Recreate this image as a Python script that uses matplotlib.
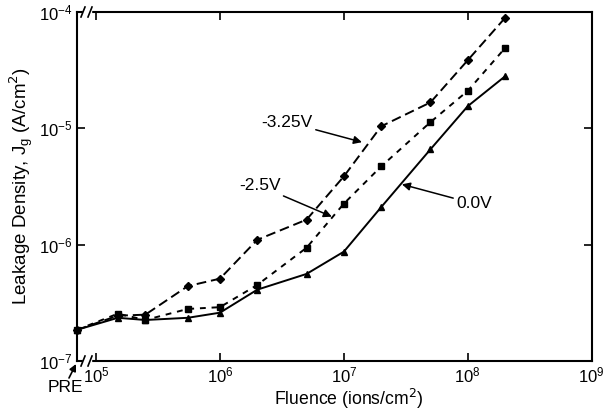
import numpy as np
import matplotlib.pyplot as plt
from matplotlib.ticker import LogLocator, NullLocator

plt.rcParams['font.family'] = ['Liberation Sans', 'DejaVu Sans']
plt.rcParams['axes.unicode_minus'] = False

# fluence (ions/cm2); first point is the pre-irradiation value
fluence = [7.0e4, 1.5e5, 2.5e5, 5.5e5, 1e6, 2e6, 5e6, 1e7, 2e7, 5e7, 1e8, 2e8]
jg_325 = [1.85e-7, 2.45e-7, 2.5e-7, 4.4e-7, 5.1e-7, 1.1e-6, 1.64e-6, 3.86e-6,
          1.04e-5, 1.67e-5, 3.85e-5, 8.9e-5]
jg_25 = [1.85e-7, 2.55e-7, 2.25e-7, 2.8e-7, 2.9e-7, 4.5e-7, 9.4e-7, 2.25e-6,
         4.7e-6, 1.13e-5, 2.1e-5, 4.9e-5]
jg_0 = [1.85e-7, 2.35e-7, 2.25e-7, 2.35e-7, 2.6e-7, 4.1e-7, 5.6e-7, 8.7e-7,
        2.1e-6, 6.6e-6, 1.55e-5, 2.8e-5]

fig = plt.figure(figsize=(6.05, 4.13), dpi=100)
ax = fig.add_axes([0.127, 0.126, 0.851, 0.845])

ax.plot(fluence, jg_325, color='black', linestyle=(0, (5, 2.5)), linewidth=1.4,
        marker='D', markersize=4.5, clip_on=False)
ax.plot(fluence, jg_25, color='black', linestyle=(0, (3, 3)), linewidth=1.4,
        marker='s', markersize=4.5, clip_on=False)
ax.plot(fluence, jg_0, color='black', linestyle='-', linewidth=1.4,
        marker='^', markersize=4.5, clip_on=False)

ax.set_xscale('log')
ax.set_yscale('log')
ax.set_xlim(7.0e4, 1e9)
ax.set_ylim(1e-7, 1e-4)
ax.xaxis.set_major_locator(LogLocator(base=10, numticks=10))
ax.yaxis.set_major_locator(LogLocator(base=10, numticks=10))
ax.xaxis.set_minor_locator(NullLocator())
ax.yaxis.set_minor_locator(NullLocator())
ax.tick_params(which='major', direction='in', length=6, width=1.2,
               top=True, right=True, labelsize=12, pad=3)
for s in ax.spines.values():
    s.set_linewidth(1.5)

ax.set_xlabel('Fluence (ions/cm$^2$)', fontsize=12.7)
ax.xaxis.set_label_coords(0.529, -0.075)
ax.set_ylabel('Leakage Density, J$_\\mathregular{g}$ (A/cm$^2$)', fontsize=13.5, labelpad=2)

arrow = dict(arrowstyle='-|>', color='black', linewidth=1.1, mutation_scale=12,
             shrinkA=0, shrinkB=0)
ax.annotate('-3.25V', xy=(1.4e7, 7.6e-6), xytext=(3.5e6, 1.13e-5), fontsize=12.5,
            ha='center', va='center', arrowprops=arrow)
ax.annotate('-2.5V', xy=(8e6, 1.74e-6), xytext=(2.1e6, 3.2e-6), fontsize=12.5,
            ha='center', va='center', arrowprops=arrow)
ax.annotate('0.0V', xy=(2.94e7, 3.3e-6), xytext=(1.12e8, 2.25e-6), fontsize=12.5,
            ha='center', va='center', arrowprops=arrow)

# PRE label with arrow to the origin
fig.text(65 / 605, 1 - 388 / 413, 'PRE', fontsize=12.5, ha='center', va='center')
ax.annotate('', xy=(76 / 605, 1 - 364 / 413), xycoords='figure fraction',
            xytext=(69 / 605, 1 - 378 / 413), textcoords='figure fraction',
            annotation_clip=False,
            arrowprops=dict(arrowstyle='-|>', color='black', linewidth=1.2,
                            mutation_scale=10, shrinkA=0, shrinkB=0))

# axis break marks on top and bottom spines
for ypix in (361, 12):
    yf = 1 - ypix / 413
    fig.patches.append(plt.Rectangle((83 / 605, yf - 3 / 413), 8 / 605, 6 / 413,
                                     transform=fig.transFigure, color='white',
                                     zorder=5))
    for xpix in (83, 90):
        fig.add_artist(plt.Line2D([(xpix - 2) / 605, (xpix + 2) / 605],
                                  [yf - 5 / 413, yf + 5 / 413],
                                  color='black', linewidth=1.2, zorder=6))

fig.savefig('out.png', dpi=100)
